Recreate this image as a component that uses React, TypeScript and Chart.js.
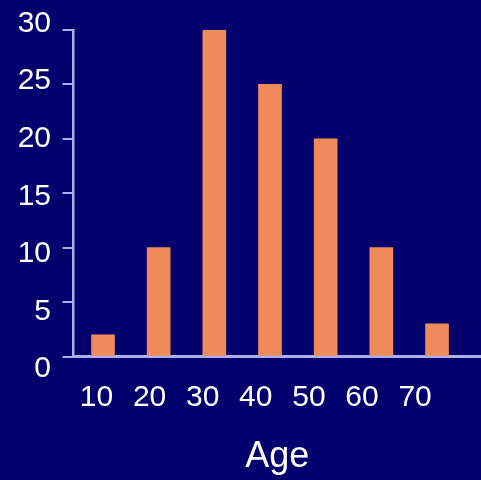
import React, { useEffect, useRef } from 'react';
import { Chart, registerables } from 'chart.js';

Chart.register(...registerables);

const ages = [10, 20, 30, 40, 50, 60, 70];
const counts = [2, 10, 30, 25, 20, 10, 3];
const yTickValues = [0, 5, 10, 15, 20, 25, 30];
const xTitle = 'Age';

const BG = '#03006E';
const BAR = '#EF8B5A';
const AXIS = '#ADAEEC';
const FONT = "'Liberation Sans', Arial, sans-serif";

export default function App() {
  const ref = useRef<HTMLCanvasElement>(null);
  useEffect(() => {
    document.body.style.margin = '0';
    const chart = new Chart(ref.current as HTMLCanvasElement, {
      type: 'bar',
      data: {
        datasets: [
          {
            data: ages.map((a, i) => ({ x: a, y: counts[i] })),
            backgroundColor: BAR,
            barThickness: 23,
            xAxisID: 'x',
            yAxisID: 'y',
          } as any,
        ],
      },
      options: {
        animation: false,
        responsive: false,
        devicePixelRatio: 1,
        layout: { padding: { top: 30, left: 0, right: 0, bottom: 0 } },
        plugins: { legend: { display: false }, tooltip: { enabled: false } },
        scales: {
          x: {
            type: 'linear',
            position: 'bottom',
            min: 4.7,
            max: 77.9,
            offset: false,
            weight: 0,
            z: 1,
            grid: { display: false, drawTicks: false, offset: false },
            border: { display: true, color: AXIS, width: 3 },
            ticks: { display: false },
            afterFit: (s: any) => { s.height = 0; },
          },
          x2: {
            type: 'linear',
            position: 'bottom',
            min: 5.67,
            max: 82.41,
            offset: false,
            weight: 1,
            grid: { display: false, drawTicks: false, offset: false },
            border: { display: false },
            ticks: {
              color: '#FFFFFF',
              font: { size: 30, family: FONT },
              padding: 23,
              autoSkip: false,
              maxRotation: 0,
              callback: (v: any) => String(v),
            },
            afterBuildTicks: (s: any) => { s.ticks = ages.map((v) => ({ value: v })); },
            title: {
              display: true,
              text: xTitle,
              color: '#FFFFFF',
              font: { size: 36, family: FONT },
              padding: { top: 0, bottom: 1.4 },
            },
            afterFit: (s: any) => { s.height = 123.5; },
          },
          y: {
            type: 'linear',
            position: 'left',
            min: 0,
            max: 30,
            weight: 0,
            grid: { display: true, drawOnChartArea: false, drawTicks: true, tickLength: 11, color: AXIS, lineWidth: 2 },
            border: { display: true, color: AXIS, width: 2.5 },
            ticks: { display: false, stepSize: 5 },
            afterBuildTicks: (s: any) => { s.ticks = yTickValues.map((v) => ({ value: v })); },
            afterFit: (s: any) => { s.width = 13.5; },
          },
          y2: {
            type: 'linear',
            position: 'left',
            min: 1.085,
            max: 29.435,
            weight: 1,
            grid: { display: false, drawTicks: false },
            border: { display: false },
            ticks: {
              color: '#FFFFFF',
              font: { size: 30, family: FONT },
              padding: 9,
              autoSkip: false,
              callback: (v: any) => String(v),
            },
            afterBuildTicks: (s: any) => { s.ticks = yTickValues.map((v) => ({ value: v })); },
            afterFit: (s: any) => { s.width = 60; },
          },
        },
      } as any,
    });
    return () => chart.destroy();
  }, []);
  return (
    <div style={{ position: 'fixed', left: 0, top: 0, width: 481, height: 480, background: BG }}>
      <canvas ref={ref} width={481} height={480} style={{ display: 'block', width: 481, height: 480 }} />
    </div>
  );
}
